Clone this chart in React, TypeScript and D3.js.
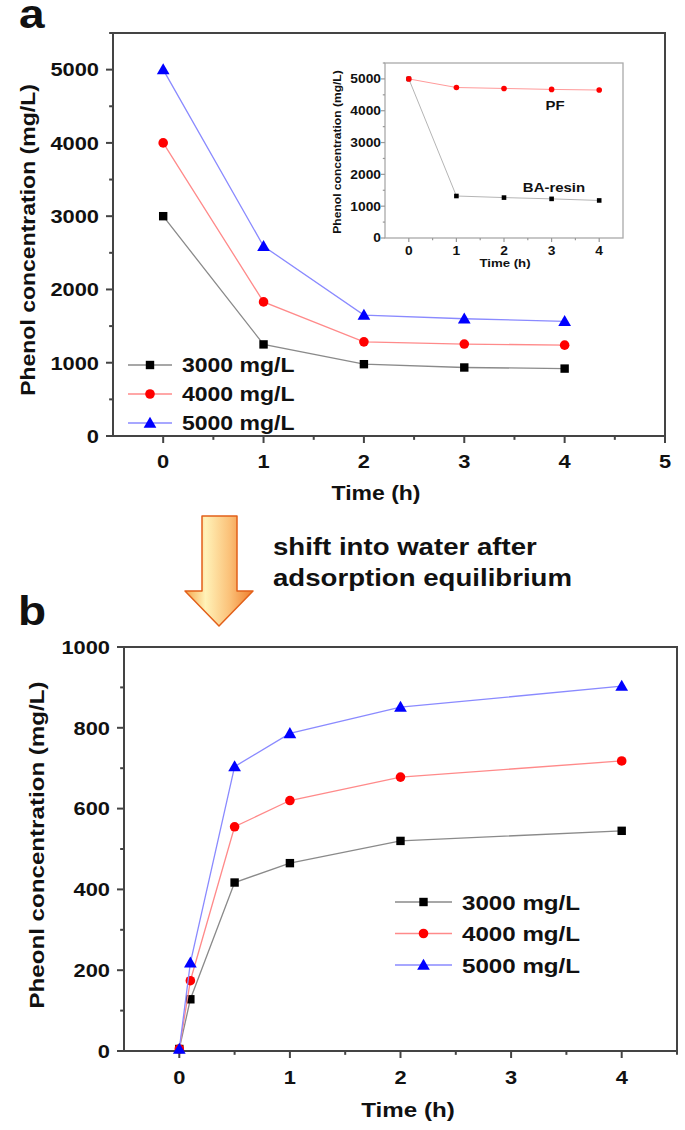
import React from 'react';
import * as d3 from 'd3';

// panel a: phenol left in solution during adsorption
const timesA = [0, 1, 2, 3, 4];
const conc3000A = [3000, 1250, 980, 935, 920];
const conc4000A = [4000, 1830, 1285, 1255, 1240];
const conc5000A = [5000, 2590, 1650, 1600, 1565];

// inset of panel a
const timesInset = [0, 1, 2, 3, 4];
const pfInset = [5000, 4730, 4700, 4670, 4650];
const baResinInset = [5000, 1320, 1270, 1230, 1180];

// panel b: release after shifting into water
const timesB = [0, 0.1, 0.5, 1, 2, 4];
const conc3000B = [5, 128, 417, 465, 520, 545];
const conc4000B = [5, 174, 555, 620, 678, 718];
const conc5000B = [5, 218, 704, 786, 851, 903];

const legendLabels = ['3000 mg/L', '4000 mg/L', '5000 mg/L'];
const yTicksA = [0, 1000, 2000, 3000, 4000, 5000];
const xTicksA = [0, 1, 2, 3, 4, 5];
const yTicksInset = [0, 1000, 2000, 3000, 4000, 5000];
const xTicksInset = [0, 1, 2, 3, 4];
const yTicksB = [0, 200, 400, 600, 800, 1000];
const xTicksB = [0, 1, 2, 3, 4];

const FONT = '"Liberation Sans", Arial, sans-serif';
const SX = 1.15; // the figure text is a bit wider than Arial
const AXIS = '#444';

const SERIES = [
  { line: '#8a8a8a', fill: '#000', shape: 'square' },
  { line: '#ff8a8a', fill: '#ff0000', shape: 'circle' },
  { line: '#8a8aff', fill: '#0000ff', shape: 'triangle' },
];

const Txt = ({ x, y, size, anchor = 'start', rotate = false, weight = 'bold', children }: any) => (
  <text
    transform={`translate(${x},${y})${rotate ? ' rotate(-90)' : ''} scale(${SX},1)`}
    fontSize={size}
    fontFamily={FONT}
    fontWeight={weight}
    textAnchor={anchor}
    fill="#111"
  >
    {children}
  </text>
);

const Marker = ({ shape, x, y, fill, s = 1 }: any) => {
  if (shape === 'square') {
    const h = 4.2 * s;
    return <rect x={x - h} y={y - h} width={2 * h} height={2 * h} fill={fill} />;
  }
  if (shape === 'circle') return <circle cx={x} cy={y} r={4.8 * s} fill={fill} />;
  const tri = d3.symbol().type(d3.symbolTriangle).size(70 * s * s)();
  return <path d={tri as string} transform={`translate(${x},${y + 1})`} fill={fill} />;
};

const Frame = ({ x, y, }: any) => {
  const [x0, x1] = x.range();
  const [y0, y1] = y.range();
  return (
    <rect x={x0} y={y1} width={x1 - x0} height={y0 - y1} fill="none" stroke={AXIS} strokeWidth={2} />
  );
};

const Axes = ({ x, y, xMajor, xMinor, yMajor, yMinor, tick, tickFont, xLabY, yLabX, fmt, color = AXIS, width = 2 }: any) => {
  const [x0] = x.range();
  const [y0] = y.range();
  return (
    <g>
      {xMajor.map((t: number) => (
        <g key={'xM' + t}>
          <line x1={x(t)} x2={x(t)} y1={y0} y2={y0 + tick} stroke={color} strokeWidth={width} />
          <Txt x={x(t)} y={xLabY} size={tickFont} anchor="middle">{fmt ? fmt(t) : t}</Txt>
        </g>
      ))}
      {xMinor.map((t: number) => (
        <line key={'xm' + t} x1={x(t)} x2={x(t)} y1={y0} y2={y0 + tick * 0.55} stroke={color} strokeWidth={width} />
      ))}
      {yMajor.map((t: number) => (
        <g key={'yM' + t}>
          <line x1={x0 - tick} x2={x0} y1={y(t)} y2={y(t)} stroke={color} strokeWidth={width} />
          <Txt x={yLabX} y={y(t) + tickFont * 0.36} size={tickFont} anchor="end">{t}</Txt>
        </g>
      ))}
      {yMinor.map((t: number) => (
        <line key={'ym' + t} x1={x0 - tick * 0.55} x2={x0} y1={y(t)} y2={y(t)} stroke={color} strokeWidth={width} />
      ))}
    </g>
  );
};

const Series = ({ x, y, times, values, idx, s = 1, lw = 1.3 }: any) => {
  const st = SERIES[idx];
  const line = d3.line<number>().x((_, i) => x(times[i])).y((d) => y(d));
  return (
    <g>
      <path d={line(values) as string} fill="none" stroke={st.line} strokeWidth={lw} />
      {values.map((v: number, i: number) => (
        <Marker key={i} shape={st.shape} x={x(times[i])} y={y(v)} fill={st.fill} s={s} />
      ))}
    </g>
  );
};

const Legend = ({ x, y, rowH, lineW, size }: any) => (
  <g>
    {legendLabels.map((lab, i) => (
      <g key={lab}>
        <line x1={x} x2={x + lineW} y1={y + i * rowH} y2={y + i * rowH} stroke={SERIES[i].line} strokeWidth={1.3} />
        <Marker shape={SERIES[i].shape} x={x + lineW / 2} y={y + i * rowH} fill={SERIES[i].fill} />
        <Txt x={x + lineW + 10} y={y + i * rowH + size * 0.36} size={size}>{lab}</Txt>
      </g>
    ))}
  </g>
);

const halfSteps = (a: number, b: number) => d3.range(a, b + 0.001, 1).map((v) => v + 0.5).filter((v) => v < b);

export default function App() {
  const xA = d3.scaleLinear().domain([-0.5, 5]).range([113, 665]);
  const yA = d3.scaleLinear().domain([0, 5500]).range([436, 33]);

  const xI = d3.scaleLinear().domain([-0.5, 4.5]).range([385, 623]);
  const yI = d3.scaleLinear().domain([0, 5500]).range([238, 63]);

  const xB = d3.scaleLinear().domain([-0.5, 4.5]).range([124, 677]);
  const yB = d3.scaleLinear().domain([0, 1000]).range([1051, 647]);

  const seriesA = [conc3000A, conc4000A, conc5000A];
  const seriesB = [conc3000B, conc4000B, conc5000B];

  const inLine = d3.line<number>().x((_, i) => xI(timesInset[i])).y((d) => yI(d));

  return (
    <svg width={685} height={1130} style={{ position: 'absolute', left: 0, top: 0, background: '#fff' }}>
      <defs>
        <linearGradient id="arrowFill" x1="0" x2="1" y1="0" y2="0">
          <stop offset="0%" stopColor="#f5a54a" />
          <stop offset="30%" stopColor="#fff2b8" />
          <stop offset="65%" stopColor="#fbc27a" />
          <stop offset="100%" stopColor="#ef7d2a" />
        </linearGradient>
      </defs>
      <rect width={685} height={1130} fill="#fff" />

      {/* panel a */}
      <Txt x={19} y={28} size={40}>a</Txt>
      <Frame x={xA} y={yA} />
      <Axes
        x={xA} y={yA}
        xMajor={xTicksA} xMinor={halfSteps(0, 5)}
        yMajor={yTicksA} yMinor={yTicksA.map((v) => v + 500)}
        tick={7} tickFont={19} xLabY={468} yLabX={99}
      />
      {seriesA.map((vals, i) => (
        <Series key={i} x={xA} y={yA} times={timesA} values={vals} idx={i} />
      ))}
      <Legend x={128} y={365} rowH={29} lineW={44} size={20} />
      <Txt x={376} y={500} size={20} anchor="middle">Time (h)</Txt>
      <Txt x={35} y={240} size={20} anchor="middle" rotate>Phenol concentration (mg/L)</Txt>

      {/* inset */}
      <rect x={385} y={63} width={238} height={175} fill="none" stroke="#aaa" strokeWidth={1.3} />
      <Axes
        x={xI} y={yI}
        xMajor={xTicksInset} xMinor={halfSteps(0, 4)}
        yMajor={yTicksInset} yMinor={yTicksInset.map((v) => v + 500)}
        tick={4} tickFont={12} xLabY={255} yLabX={381} color="#999" width={1.2}
      />
      <path d={inLine(baResinInset) as string} fill="none" stroke="#b5b5b5" strokeWidth={1} />
      <path d={inLine(pfInset) as string} fill="none" stroke="#ff9a9a" strokeWidth={1} />
      {baResinInset.map((v, i) => (
        <rect key={'ba' + i} x={xI(timesInset[i]) - 2.3} y={yI(v) - 2.3} width={4.6} height={4.6} fill="#000" />
      ))}
      {pfInset.map((v, i) => (
        <circle key={'pf' + i} cx={xI(timesInset[i])} cy={yI(v)} r={2.8} fill="#ff0000" />
      ))}
      <Txt x={555} y={110} size={13} anchor="middle">PF</Txt>
      <Txt x={554} y={192} size={13} anchor="middle">BA-resin</Txt>
      <Txt x={505} y={267} size={11.5} anchor="middle">Time (h)</Txt>
      <Txt x={341} y={152} size={10.5} anchor="middle" rotate>Phenol concentration (mg/L)</Txt>

      {/* arrow and caption */}
      <path
        d="M202,516 L237,516 L237,591 L253,591 L219,626 L185,591 L202,591 Z"
        fill="url(#arrowFill)" stroke="#e2601a" strokeWidth={1.5} strokeLinejoin="round"
      />
      <Txt x={273} y={555} size={24}>shift into water after</Txt>
      <Txt x={273} y={586} size={24}>adsorption equilibrium</Txt>

      {/* panel b */}
      <Txt x={18} y={625} size={40}>b</Txt>
      <Frame x={xB} y={yB} />
      <Axes
        x={xB} y={yB}
        xMajor={xTicksB} xMinor={halfSteps(0, 5).filter((v) => v <= 4.5)}
        yMajor={yTicksB} yMinor={yTicksB.slice(0, 5).map((v) => v + 100)}
        tick={7} tickFont={19} xLabY={1084} yLabX={110}
      />
      {seriesB.map((vals, i) => (
        <Series key={i} x={xB} y={yB} times={timesB} values={vals} idx={i} />
      ))}
      <Legend x={395} y={902} rowH={31.5} lineW={57} size={21} />
      <Txt x={408} y={1117} size={21} anchor="middle">Time (h)</Txt>
      <Txt x={44} y={845} size={21} anchor="middle" rotate>Pheonl concentration (mg/L)</Txt>
    </svg>
  );
}
